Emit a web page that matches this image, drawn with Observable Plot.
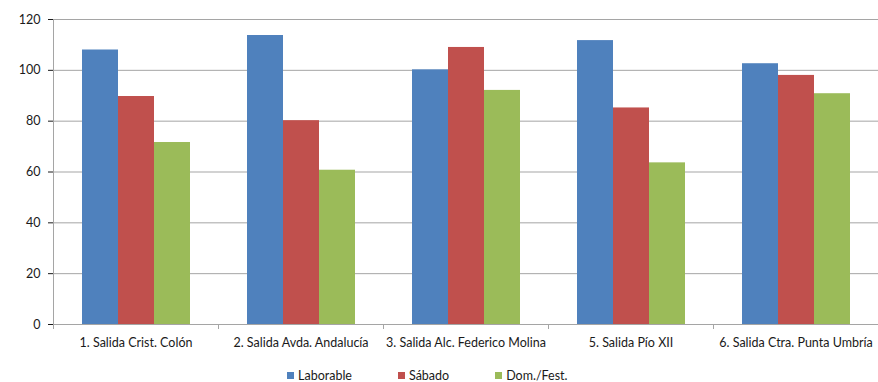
<!DOCTYPE html>
<html>
<head>
<meta charset="utf-8">
<script src="https://cdn.jsdelivr.net/npm/d3@7"></script>
<script src="https://cdn.jsdelivr.net/npm/@observablehq/plot@0.6"></script>
<style>
  html, body { margin: 0; padding: 0; background: #fff; overflow: hidden; }
  #chart { width: 878px; font-family: Lato, "DejaVu Sans", sans-serif; color: #1a1a1a; }
  g[aria-label="y-axis tick"] { stroke: #a5a5a5; }
  #legend { padding-left: 287px; height: 22px; display: flex; align-items: center; margin-top: 4px; }
  #legend .lg-swatches { min-height: 0 !important; margin: 0 !important; }
  #legend .lg-swatch { margin-right: 46px !important; }
  #legend .lg-swatch > svg { margin-right: 4px !important; }
</style>
</head>
<body>
<div id="chart"></div>
<script>
const categories = [
  "1. Salida Crist. Colón",
  "2. Salida Avda. Andalucía",
  "3. Salida Alc. Federico Molina",
  "5. Salida Pío XII",
  "6. Salida Ctra. Punta Umbría"
];
const series = ["Laborable", "Sábado", "Dom./Fest."];
const laborable = [108.0, 113.7, 100.2, 111.7, 102.6];
const sabado = [89.7, 80.2, 109.0, 85.2, 98.0];
const domFest = [71.6, 60.7, 92.1, 63.6, 90.8];
const yTicks = [0, 20, 40, 60, 80, 100, 120];
const colors = ["#4F81BD", "#C0504D", "#9BBB59"];

const valuesBySeries = [laborable, sabado, domFest];
const data = [];
categories.forEach((c, i) => {
  series.forEach((s, j) => data.push({cat: c, series: s, value: valuesBySeries[j][i]}));
});

const W = 878, H = 360;
const FONT = "Lato, 'DejaVu Sans', sans-serif";
const plot = Plot.plot({
  width: W,
  height: H,
  marginLeft: 52,
  marginRight: 0,
  marginTop: 19,
  marginBottom: 36,
  style: {fontFamily: FONT, fontSize: "12.5px", color: "#1a1a1a", background: "#fff"},
  fx: {domain: categories, padding: 0, label: null, tickSize: 0, tickPadding: 14, axis: "bottom"},
  x: {domain: series, paddingInner: 0, paddingOuter: 0.75, axis: null},
  y: {domain: [0, 120], ticks: yTicks, tickSize: 5, tickPadding: 8, label: null},
  color: {domain: series, range: colors},
  marks: [
    Plot.gridY(yTicks, {stroke: "#a5a5a5", strokeOpacity: 1}),
    Plot.barY(data, {fx: "cat", x: "series", y: "value", fill: "series"})
  ]
});

// Category boundary ticks and y-axis line from the plot's own scales
const fx = plot.scale("fx");
const y = plot.scale("y");
const svg = d3.select(plot.tagName.toLowerCase() === "svg" ? plot : plot.querySelector("svg"));
const y0 = y.apply(0), yTop = y.apply(120);
const bounds = categories.map(c => fx.apply(c));
bounds.push(fx.apply(categories[categories.length - 1]) + fx.bandwidth);
const g = svg.append("g").attr("stroke", "#a5a5a5").attr("shape-rendering", "crispEdges");
g.selectAll("line.b").data(bounds).join("line")
  .attr("x1", d => d).attr("x2", d => d).attr("y1", y0).attr("y2", y0 + 5);
g.append("line").attr("x1", bounds[0]).attr("x2", bounds[0]).attr("y1", yTop).attr("y2", y0);

document.getElementById("chart").appendChild(plot);

const legend = Plot.legend({
  color: {domain: series, range: colors},
  swatchSize: 7,
  className: "lg",
  style: {fontFamily: FONT, fontSize: "12.5px", color: "#1a1a1a"}
});
const lgDiv = document.createElement("div");
lgDiv.id = "legend";
lgDiv.appendChild(legend);
document.getElementById("chart").appendChild(lgDiv);
</script>
</body>
</html>
